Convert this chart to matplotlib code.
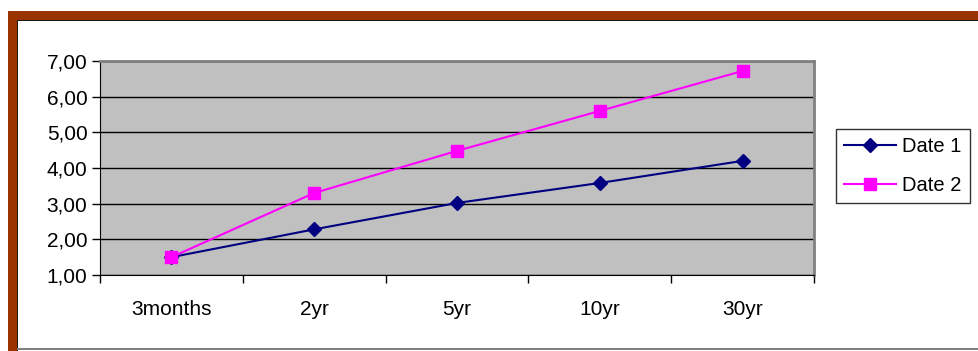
import matplotlib
matplotlib.use("Agg")
import matplotlib.pyplot as plt
from matplotlib.patches import Rectangle
from matplotlib.lines import Line2D

# data
categories = ["3months", "2yr", "5yr", "10yr", "30yr"]
date1 = [1.50, 2.28, 3.02, 3.58, 4.20]
date2 = [1.50, 3.30, 4.48, 5.60, 6.72]

plt.rcParams["font.family"] = ["Liberation Sans", "DejaVu Sans"]

W, H = 979, 351
fig = plt.figure(figsize=(W / 100, H / 100), dpi=100)

# brown frame at top and left, thin gray line at bottom
def px(x0, y0, x1, y1, color):
    fig.patches.append(Rectangle((x0 / W, 1 - y1 / H), (x1 - x0) / W, (y1 - y0) / H,
                                 transform=fig.transFigure, color=color, zorder=0, lw=0))

px(8, 11, W, 20, "#993300")
px(8, 11, 17, H, "#993300")
px(17, 20, W, 21, "#1a1a1a")
px(17, 20, 18, H, "#1a1a1a")
px(17, 348, W, 350, "#808080")

# plot area in pixels
L, T, R, B = 100, 61, 814, 275
ax = fig.add_axes([L / W, 1 - B / H, (R - L) / W, (B - T) / H])
ax.set_facecolor("#c0c0c0")

x = list(range(len(categories)))
ax.plot(x, date1, color="#000080", lw=1.5, marker="D", ms=7, label="Date 1", zorder=3)
ax.plot(x, date2, color="#ff00ff", lw=1.5, marker="s", ms=9, label="Date 2", zorder=4)

ax.set_xlim(-0.5, len(categories) - 0.5)
ax.set_ylim(1, 7)
ax.set_yticks([1, 2, 3, 4, 5, 6, 7])
ax.set_yticklabels([f"{v},00" for v in range(1, 8)])
ax.yaxis.grid(True, color="black", lw=1)
ax.set_axisbelow(True)

ax.set_xticks(x)
ax.set_xticklabels(categories)
ax.set_xticks([i - 0.5 for i in range(len(categories) + 1)], minor=True)
ax.tick_params(axis="x", which="major", length=0, pad=18, labelsize=15)
ax.tick_params(axis="x", which="minor", length=6, width=1, direction="out", color="black")
ax.tick_params(axis="y", length=6, width=1, direction="out", labelsize=15, pad=3)

for side in ["top", "right"]:
    ax.spines[side].set_color("#808080")
    ax.spines[side].set_linewidth(2)
ax.spines["left"].set_color("black")
ax.spines["bottom"].set_color("black")

leg = fig.legend(handles=[
    Line2D([], [], color="#000080", lw=1.5, marker="D", ms=7),
    Line2D([], [], color="#ff00ff", lw=1.5, marker="s", ms=9)],
    labels=["Date 1", "Date 2"],
    loc="upper left", bbox_to_anchor=(836 / W, 1 - 129 / H),
    frameon=True, fancybox=False, edgecolor="black", fontsize=14.5,
    handlelength=2.6, borderpad=0.4, labelspacing=1.0, handletextpad=0.3,
    borderaxespad=0)
leg.get_frame().set_linewidth(1)

fig.savefig("out.png", dpi=100)
